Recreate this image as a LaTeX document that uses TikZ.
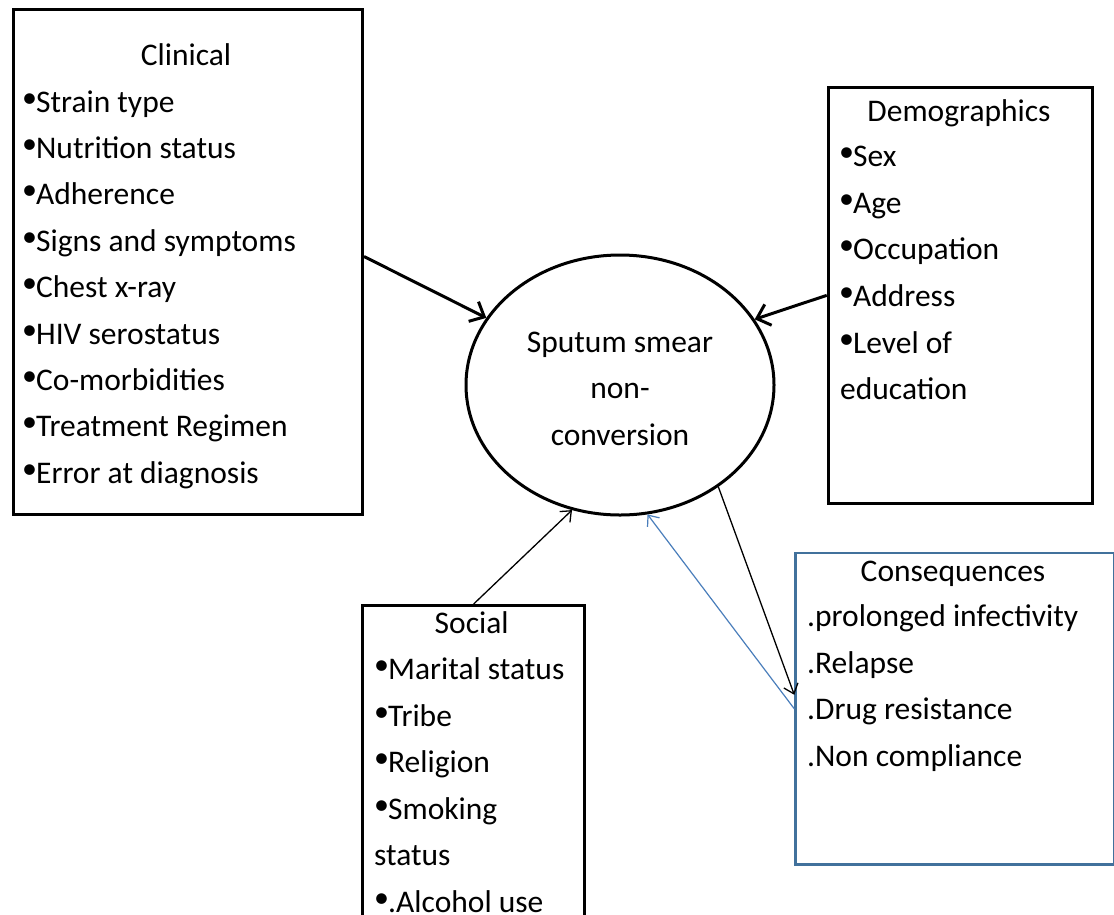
\documentclass[tikz,border=0pt]{standalone}
\usepackage{fontspec}
\setmainfont{Carlito}
\usetikzlibrary{arrows.meta,shapes.geometric}
\definecolor{consblue}{RGB}{65,113,156}
\definecolor{arrblue}{RGB}{74,126,187}
\newcommand\mybul{\raisebox{5pt}{\fontsize{30}{30}\selectfont •}\kern-1pt}
\begin{document}
\begin{tikzpicture}[x=1pt,y=-1pt,
  box/.style={draw, line width=3pt, rectangle, anchor=north west, inner sep=0pt},
  txt/.style={inner sep=0pt, font=\fontsize{31.5}{46.4}\selectfont},
  thickarr/.style={line width=3pt, -{Straight Barb[length=12pt,width=22pt]}},
  thinarr/.style={line width=1.3pt, -{Straight Barb[length=9pt,width=15pt]}},
]
\clip (0,0) rectangle (1114,914);
% boxes
\node[box, minimum width=349pt, minimum height=505pt] (clin) at (12,8) {};
\node[box, minimum width=264pt, minimum height=415.7pt] (dem) at (826.7,86) {};
\node[box, minimum width=222.3pt, minimum height=340pt] (soc) at (361,604) {};
\node[box, draw=consblue, line width=2.6pt, minimum width=318.4pt, minimum height=311.6pt] (cons) at (794.3,551.7) {};
\node[draw, ellipse, line width=3pt, minimum width=308pt, minimum height=260pt, inner sep=0pt,
      align=center, font=\fontsize{31.5}{46.4}\selectfont] (sput) at (620,385)
      {\rule{0pt}{28pt}Sputum smear\\non-\\conversion};
% clinical
\node[txt, anchor=base] (clint) at (186,65) {Clinical};
\foreach \t [count=\i from 0] in {Strain type,Nutrition status,Adherence,Signs and symptoms,Chest x-ray,HIV serostatus,Co-morbidities,Treatment Regimen,Error at diagnosis}
  \node[txt, anchor=base west] (cl\i) at (22,{112+46.4*\i}) {\mybul\t};
% demographics
\node[txt, anchor=base] (demt) at (959,121.7) {Demographics};
\foreach \t [count=\i from 0] in {Sex,Age,Occupation,Address,Level of}
  \node[txt, anchor=base west] (de\i) at (839,{166.7+46.6*\i}) {\mybul\t};
\node[txt, anchor=base west] (de5) at (840,{166.7+46.6*5}) {education};
% social
\node[txt, anchor=base] (soct) at (471.7,633.3) {Social};
\foreach \t [count=\i from 0] in {Marital status,Tribe,Religion,Smoking}
  \node[txt, anchor=base west] (so\i) at (374,{679.5+46.6*\i}) {\mybul\t};
\node[txt, anchor=base west] (so4) at (374,{679.5+46.6*4}) {status};
\node[txt, anchor=base west] (so5) at (374,{679.5+46.6*5}) {\mybul.Alcohol use};
% consequences
\node[txt, anchor=base] (const) at (953,581.7) {Consequences};
\foreach \t [count=\i from 0] in {.prolonged infectivity,.Relapse,.Drug resistance,.Non compliance}
  \node[txt, anchor=base west] (co\i) at (807,{626.7+46.6*\i}) {\t};
% connectors
\draw[thickarr] ([yshift=5.5pt]clin.east) -- (sput);
\draw[thickarr] (dem.west) -- (sput.26.7);
\draw[thinarr] (soc.north) -- (sput.249);
\draw[thinarr] (sput.314) -- ([yshift=14pt]cons.west);
\draw[thinarr, draw=arrblue, line width=1.2pt] (cons.west) -- (sput.282);
\end{tikzpicture}
\end{document}
